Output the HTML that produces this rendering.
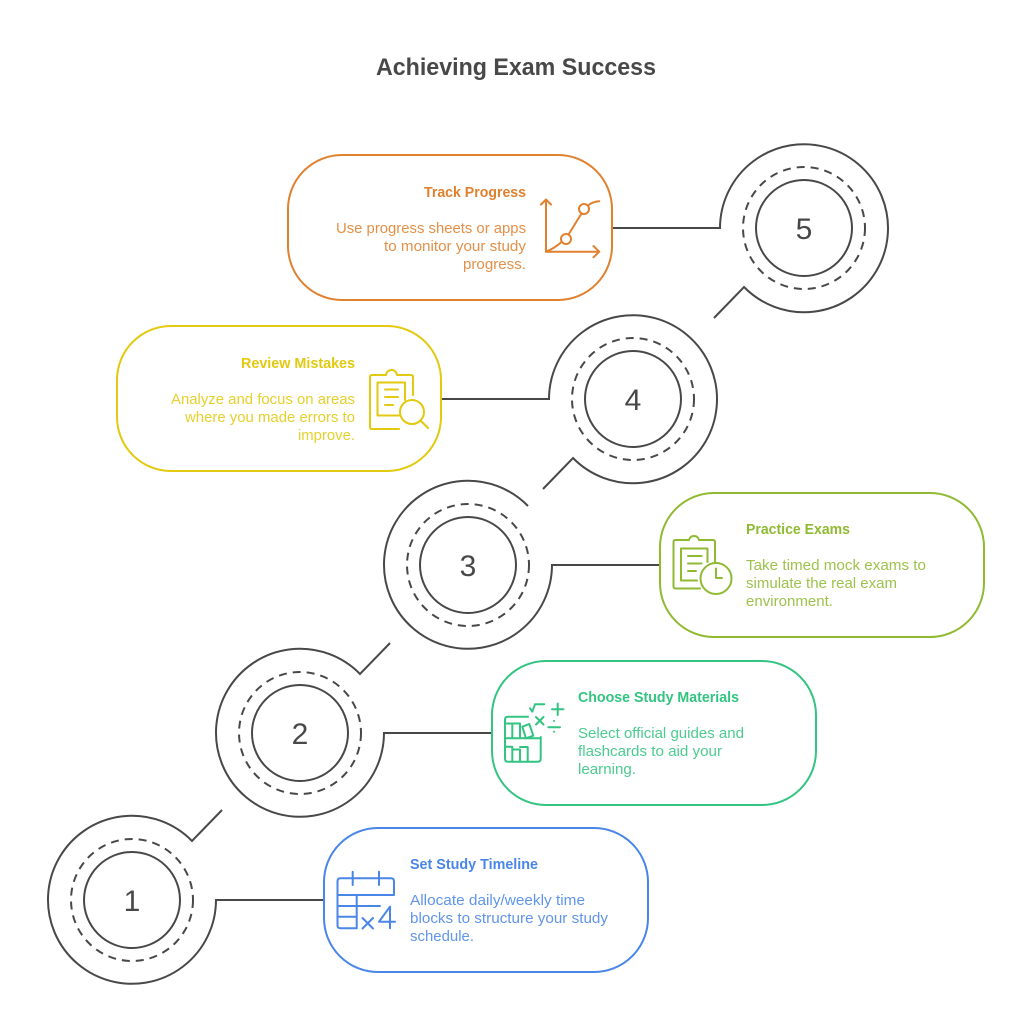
<!DOCTYPE html>
<html lang="en">
<head>
<meta charset="utf-8">
<title>Achieving Exam Success</title>
<style>
html,body{margin:0;padding:0;background:#fff;}
svg{display:block;}
text{font-family:"Liberation Sans",sans-serif;}
.t{font-weight:bold;font-size:14.5px;}
.b{font-size:14.5px;fill-opacity:.88;}
.n{font-size:30px;fill:#484848;text-anchor:middle;}
.c{fill:none;stroke:#484848;stroke-width:2;}
.d{fill:none;stroke:#484848;stroke-width:2;stroke-dasharray:8 6;}
.i{fill:none;stroke-width:2;stroke-linecap:round;stroke-linejoin:round;}
</style>
</head>
<body>
<svg width="1032" height="1011" viewBox="0 0 1032 1011" xmlns="http://www.w3.org/2000/svg">
<rect width="1032" height="1011" fill="#fff"/>
<text x="376" y="75" font-size="24" font-weight="bold" fill="#484848" textLength="280" lengthAdjust="spacingAndGlyphs">Achieving Exam Success</text>

<!-- connectors and outer arcs -->
<path class="c" d="M612 228H720A84 84 0 1 1 744 287L714 318"/>
<path class="c" d="M442 399H549A84 84 0 1 1 573 458L543 489"/>
<path class="c" d="M660 565H552A84 84 0 1 1 528 506"/>
<path class="c" d="M492 733H384A84 84 0 1 1 360 674L390 643"/>
<path class="c" d="M324 900H216A84 84 0 1 1 192 841L222 810"/>

<circle class="d" cx="804" cy="228" r="61"/><circle class="c" cx="804" cy="228" r="48"/>
<circle class="d" cx="633" cy="399" r="61"/><circle class="c" cx="633" cy="399" r="48"/>
<circle class="d" cx="468" cy="565" r="61"/><circle class="c" cx="468" cy="565" r="48"/>
<circle class="d" cx="300" cy="733" r="61"/><circle class="c" cx="300" cy="733" r="48"/>
<circle class="d" cx="132" cy="900" r="61"/><circle class="c" cx="132" cy="900" r="48"/>

<text class="n" x="804" y="239">5</text>
<text class="n" x="633" y="410">4</text>
<text class="n" x="468" y="576">3</text>
<text class="n" x="300" y="744">2</text>
<text class="n" x="132" y="911">1</text>

<!-- Track Progress -->
<rect x="288" y="155" width="324" height="145" rx="54" fill="#fff" stroke="#e0812f" stroke-width="2"/>
<g fill="#e0812f">
<text class="t" x="424" y="197" textLength="102" lengthAdjust="spacingAndGlyphs">Track Progress</text>
<text class="b" x="336" y="233" textLength="190" lengthAdjust="spacingAndGlyphs">Use progress sheets or apps</text>
<text class="b" x="384" y="251" textLength="142" lengthAdjust="spacingAndGlyphs">to monitor your study</text>
<text class="b" x="463" y="269" textLength="63" lengthAdjust="spacingAndGlyphs">progress.</text>
</g>
<g class="i" stroke="#e0812f">
<path d="M546 199.5V251.7H599M541 204.5L546 199.5L551 204.5M593.5 246L599.3 251.7L593.5 257.3"/>
<path d="M546 251.7Q555 248 561.5 242"/>
<circle cx="566" cy="239" r="5"/>
<path d="M568.5 234.5L581.5 213.5"/>
<circle cx="584" cy="209" r="5"/>
<path d="M588 205.5Q593 201.5 599.3 201.3"/>
</g>

<!-- Review Mistakes -->
<rect x="117" y="326" width="324" height="145" rx="54" fill="#fff" stroke="#e3c90f" stroke-width="2"/>
<g fill="#e3c90f">
<text class="t" x="241" y="368" textLength="114" lengthAdjust="spacingAndGlyphs">Review Mistakes</text>
<text class="b" x="171" y="404" textLength="184" lengthAdjust="spacingAndGlyphs">Analyze and focus on areas</text>
<text class="b" x="185" y="422" textLength="170" lengthAdjust="spacingAndGlyphs">where you made errors to</text>
<text class="b" x="298" y="440" textLength="57" lengthAdjust="spacingAndGlyphs">improve.</text>
</g>
<g class="i" stroke="#e3c90f">
<path d="M413 395V377Q413 375 411 375H397Q396 370 391.5 370Q387 370 386 375H372Q370 375 370 377V427Q370 429 372 429H399"/>
<path d="M405 400V382.5H377.5V415.5H399"/>
<path d="M385 389.500H398M385 397H398M385 405H393"/>
<circle cx="412" cy="412" r="12"/>
<path d="M420.500 420.500L428 428"/>
</g>

<!-- Practice Exams -->
<rect x="660" y="493" width="324" height="144" rx="54" fill="#fff" stroke="#8fba32" stroke-width="2"/>
<g fill="#8fba32">
<text class="t" x="746" y="534" textLength="104" lengthAdjust="spacingAndGlyphs">Practice Exams</text>
<text class="b" x="746" y="570" textLength="180" lengthAdjust="spacingAndGlyphs">Take timed mock exams to</text>
<text class="b" x="746" y="588" textLength="151" lengthAdjust="spacingAndGlyphs">simulate the real exam</text>
<text class="b" x="746" y="606" textLength="87" lengthAdjust="spacingAndGlyphs">environment.</text>
</g>
<g class="i" stroke="#8fba32">
<path d="M715 562V542Q715 540 713 540H699Q698 536 694 536Q690 536 689 540H675.500Q673.500 540 673.500 542V586Q673.500 588.500 675.500 588.500H700"/>
<path d="M707.500 562V548.500H681V580.500H697"/>
<path d="M688 556H701.500M688 563.500H701.500M688 571H696"/>
<circle cx="716" cy="578.500" r="15.500"/>
<path d="M716 568.500V578H722"/>
</g>

<!-- Choose Study Materials -->
<rect x="492" y="661" width="324" height="144" rx="54" fill="#fff" stroke="#33c481" stroke-width="2"/>
<g fill="#33c481">
<text class="t" x="578" y="702" textLength="161" lengthAdjust="spacingAndGlyphs">Choose Study Materials</text>
<text class="b" x="578" y="738" textLength="166" lengthAdjust="spacingAndGlyphs">Select official guides and</text>
<text class="b" x="578" y="756" textLength="144" lengthAdjust="spacingAndGlyphs">flashcards to aid your</text>
<text class="b" x="578" y="774" textLength="58" lengthAdjust="spacingAndGlyphs">learning.</text>
</g>
<g class="i" stroke="#33c481">
<path d="M528 716.700H508Q505 716.700 505 719.700V758.700Q505 761.700 508 761.700H537.700Q540.700 761.700 540.700 758.700V737"/>
<path d="M505 738.300H540.700M505 723.500H520M512.300 723.500V738.300M520 723.500V738.300"/>
<path d="M522.300 726.700L529.300 724L533.300 735.700L526 738.300Z"/>
<path d="M505 746.700H512.300V761.700M512.300 749.500H520V761.700M520 747H527.700V761.700"/>
<path d="M530 708.300L532.300 711.700L535 704.300H544.300"/>
<path d="M536 717L543.500 724.500M543.500 717L536 724.500"/>
<path d="M557.700 703.500V715M552 709.300H563.500"/>
<path d="M548.300 727.300H560M554 721H554.100M554 731.700H554.100"/>
</g>

<!-- Set Study Timeline -->
<rect x="324" y="828" width="324" height="144" rx="54" fill="#fff" stroke="#4a86e8" stroke-width="2"/>
<g fill="#4a86e8">
<text class="t" x="410" y="869" textLength="128" lengthAdjust="spacingAndGlyphs">Set Study Timeline</text>
<text class="b" x="410" y="905" textLength="175" lengthAdjust="spacingAndGlyphs">Allocate daily/weekly time</text>
<text class="b" x="410" y="923" textLength="198" lengthAdjust="spacingAndGlyphs">blocks to structure your study</text>
<text class="b" x="410" y="941" textLength="64" lengthAdjust="spacingAndGlyphs">schedule.</text>
</g>
<g class="i" stroke="#4a86e8">
<path d="M394 894V881.500Q394 878.300 391 878.300H340.500Q337.500 878.300 337.500 881.500V925Q337.500 928.300 340.500 928.300H356.700"/>
<path d="M352.700 871.700V885M379 871.700V885"/>
<path d="M337.500 895H394M337.500 906H380M337.500 916.700H356.700M356.700 895V928.300"/>
<path d="M362.500 918L373 928.500M373 918L362.500 928.500"/>
<path d="M395 921.700H379L390 906.700V928.300"/>
</g>
</svg>
</body>
</html>
